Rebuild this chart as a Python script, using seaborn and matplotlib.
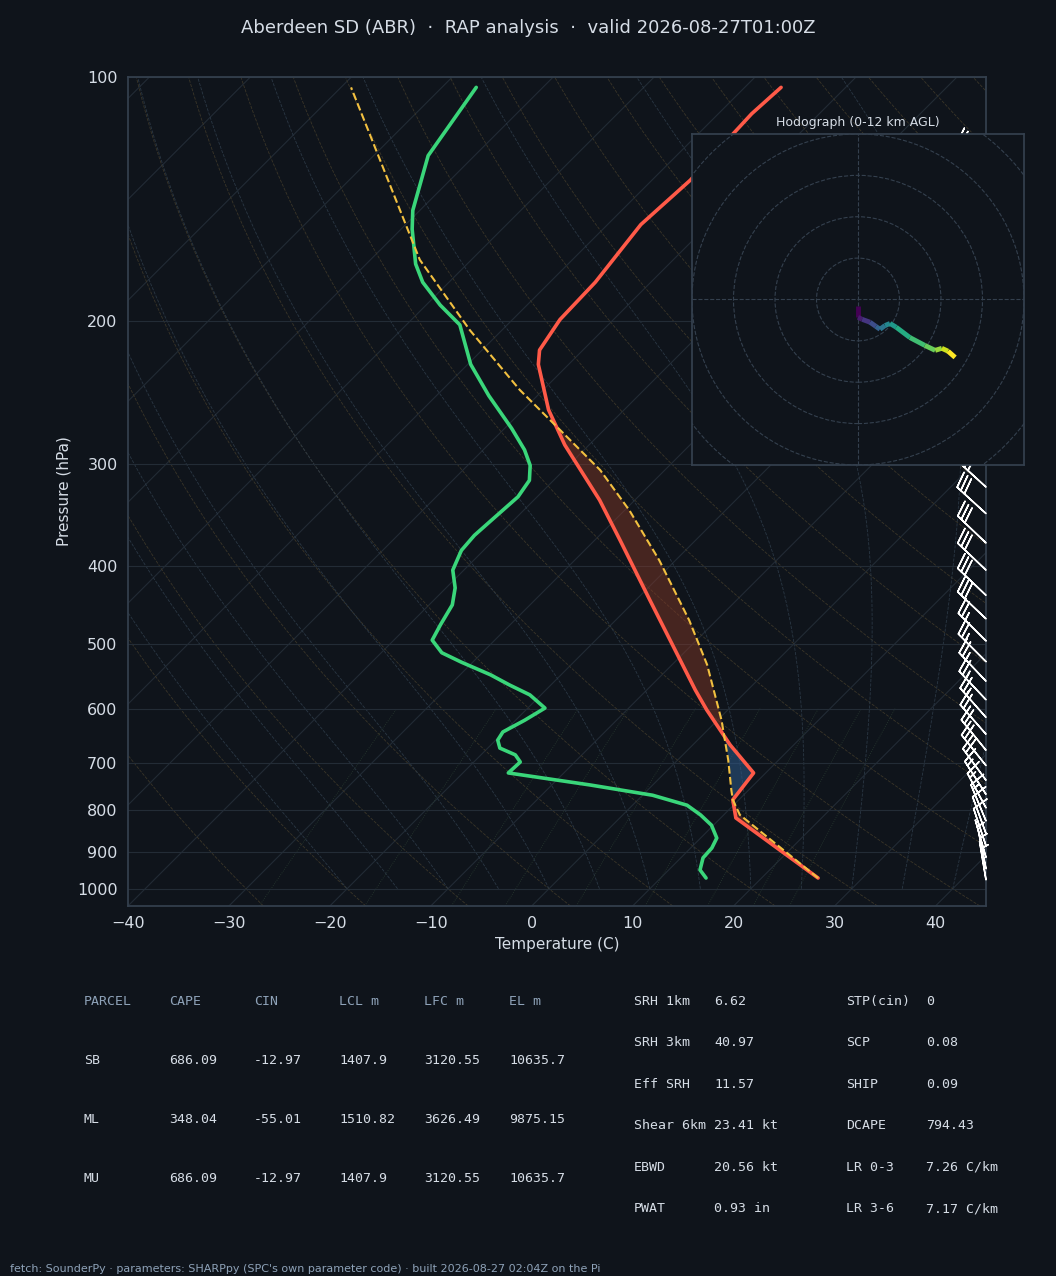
import numpy as np
import matplotlib
matplotlib.use("Agg")
import matplotlib.pyplot as plt
import seaborn as sns
from matplotlib.collections import LineCollection

# sounding
temp_p = [970, 818, 777, 720, 665, 602, 569, 441, 372, 332, 284, 257, 226, 217, 199, 179, 152, 134, 111, 103]
temp_t = [25.6, 11.5, 9.4, 8.8, 3.7, -2.1, -5.2, -18.6, -27.5, -33.5, -42.4, -47.5, -53.0, -54.3, -55.3, -55.5, -56.7, -56.2, -56.7, -56.4]

dew_p = [970, 948, 916, 891, 866, 835, 811, 789, 767, 745, 720, 698, 684, 671, 656, 641, 620, 599, 577, 561,
         545, 526, 512, 494, 473, 447, 426, 405, 383, 367, 351, 329, 314, 301, 288, 271, 247, 226, 202, 191,
         179, 170, 154, 146, 125, 103]
dew_t = [14.5, 13.1, 12.2, 12.1, 11.6, 9.8, 7.7, 5.4, 1.0, -6.2, -15.5, -15.4, -16.6, -18.8, -19.8, -20.1, -19.1, -18.3, -21.1, -24.1,
         -27.0, -31.1, -34.0, -36.2, -36.9, -37.7, -39.1, -41.1, -42.2, -42.4, -42.2, -41.9, -42.4, -43.8, -45.9, -49.3, -54.8, -59.7, -64.7, -68.6,
         -72.6, -75.1, -78.9, -80.7, -84.6, -86.6]

parcel_p = [970, 811, 777, 756, 694, 620, 530, 467, 394, 342, 305, 272, 243, 205, 168, 103]
parcel_t = [25.6, 11.6, 9.4, 8.3, 5.0, 0.4, -6.5, -12.7, -21.6, -29.5, -36.4, -44.4, -52.3, -63.2, -75.1, -99.0]

barb_p = [975, 945, 915, 885, 855, 825, 795, 765, 735, 705, 675, 645, 615, 585, 555, 525, 495, 465, 435, 405,
          375, 345, 320, 295, 150, 130]
barb_u = [0.5, 1, 2, 3, 4, 5, 7, 9, 11, 12, 13, 14, 15, 16, 17, 18, 19, 20, 21, 21,
          22, 23, 24, 24, 26, 26]
barb_v = [-3, -5, -7, -9, -11, -12, -13, -14, -15, -15, -16, -16, -17, -17, -18, -18, -19, -19, -20, -20,
          -21, -21, -22, -22, -24, -24]

hodo_u = [0, 0, 1, 2.9, 4.3, 5.3, 6.5, 7.7, 9.2, 12.5, 16.1, 18.6, 20.2, 21.7, 23.4]
hodo_v = [-1.5, -4.3, -4.8, -5.5, -6.5, -7.2, -6.3, -5.8, -6.7, -9.2, -11.1, -12.3, -11.8, -12.5, -14.0]

BG = "#0f141b"
SPINE = "#34404e"
TXT = "#d6dde6"
SKEW = 34.93
PBOT = 1050.0

sns.set_theme(style="dark")
plt.rcParams.update({"axes.facecolor": BG, "figure.facecolor": BG, "text.color": TXT,
                     "xtick.color": TXT, "ytick.color": TXT, "axes.labelcolor": TXT,
                     "axes.edgecolor": SPINE})


def skx(t, p):
    return np.asarray(t, float) + SKEW * np.log(PBOT / np.asarray(p, float))


fig = plt.figure(figsize=(10.56, 12.76), dpi=100)
ax = fig.add_axes([0.1212, 0.29, 0.8125, 0.6497])
ax.set_yscale("log")
ax.set_ylim(PBOT, 100)
ax.set_xlim(-40, 45)

# background lines
pp = np.geomspace(1050, 100, 200)
for t0 in range(-160, 60, 10):
    ax.plot(skx(np.full_like(pp, t0), pp), pp, color="#222b35", lw=0.8, zorder=1)
for th in range(-30, 220, 10):
    tk = (th + 273.15) * (pp / 1000) ** 0.2857 - 273.15
    ax.plot(skx(tk, pp), pp, color="#3a3528", lw=0.6, ls="--", zorder=1)
# moist adiabats
def es(tc):
    return 6.112 * np.exp(17.67 * tc / (tc + 243.5))
for t0 in range(-20, 45, 5):
    T = t0 + 273.15
    ps = np.geomspace(1000, 100, 300)
    tl = []
    for i, p in enumerate(ps):
        tl.append(T - 273.15)
        if i + 1 < len(ps):
            rs = 0.622 * es(T - 273.15) / (p - es(T - 273.15))
            dtdp = (287 * T + 2.5e6 * rs) / (1004 + 2.5e6 ** 2 * rs * 0.622 / (287 * T * T)) / p
            T += dtdp * (ps[i + 1] - p)
    ax.plot(skx(tl, ps), ps, color="#2a3744", lw=0.6, ls="--", zorder=1)
pm = np.geomspace(1050, 600, 50)
for w in [0.4, 1, 2, 3, 5, 8, 12, 16, 20]:
    e = pm * w / 1000 / (0.622 + w / 1000)
    td = 243.5 * np.log(e / 6.112) / (17.67 - np.log(e / 6.112))
    ax.plot(skx(td, pm), pm, color="#283a30", lw=0.6, ls=":", zorder=1)
for p in range(100, 1100, 100):
    ax.axhline(p, color="#232c36", lw=0.8, zorder=1)

# CAPE / CIN shading
pg = np.geomspace(970, 103, 400)
lp = np.log(pg)
tt = np.interp(-lp, -np.log(temp_p), temp_t)
tp = np.interp(-lp, -np.log(parcel_p), parcel_t)
ax.fill_betweenx(pg, skx(tt, pg), skx(tp, pg), where=(tp > tt) & (pg > 250), color="#8a3a28", alpha=0.45, lw=0, zorder=2)
ax.fill_betweenx(pg, skx(tt, pg), skx(tp, pg), where=(tp < tt) & (pg > 600), color="#2e5a8a", alpha=0.55, lw=0, zorder=2)

sns.lineplot(x=skx(temp_t, temp_p), y=temp_p, sort=False, estimator=None, color="#ff5a48", lw=2.6, ax=ax, zorder=4)
sns.lineplot(x=skx(dew_t, dew_p), y=dew_p, sort=False, estimator=None, color="#3ad67a", lw=2.6, ax=ax, zorder=4)
sns.lineplot(x=skx(parcel_t, parcel_p), y=parcel_p, sort=False, estimator=None, color="#f2c040", lw=1.5, ls="--", ax=ax, zorder=4)

ax.barbs(np.ones(len(barb_p)), barb_p, barb_u, barb_v, transform=ax.get_yaxis_transform(),
         color="white", length=7.5, linewidth=1.1, clip_on=False, zorder=5)

ax.set_yticks(range(100, 1100, 100))
ax.set_yticklabels([str(p) for p in range(100, 1100, 100)])
ax.yaxis.set_minor_locator(matplotlib.ticker.NullLocator())
ax.set_xticks(range(-40, 50, 10))
ax.tick_params(labelsize=11.5, length=4, color=TXT)
ax.set_xlabel("Temperature (C)", fontsize=11)
ax.set_ylabel("Pressure (hPa)", fontsize=11)
for s in ax.spines.values():
    s.set_color(SPINE)
ax.grid(False)

fig.suptitle("Aberdeen SD (ABR)  ·  RAP analysis  ·  valid 2026-08-27T01:00Z", y=0.985, fontsize=13, color=TXT)

# hodograph
hx = fig.add_axes([0.6553, 0.6356, 0.3144, 0.2594])
hx.set_facecolor(BG)
hx.set_xlim(-40, 40)
hx.set_ylim(-40, 40)
for r in range(10, 70, 10):
    hx.add_patch(plt.Circle((0, 0), r, fill=False, ls="--", lw=0.8, color="#34404e"))
hx.axhline(0, color="#34404e", ls="--", lw=0.8)
hx.axvline(0, color="#34404e", ls="--", lw=0.8)
pts = np.column_stack([hodo_u, hodo_v])
segs = np.stack([pts[:-1], pts[1:]], axis=1)
lc = LineCollection(segs, cmap="viridis", linewidths=3.5)
lc.set_array(np.arange(len(segs)))
hx.add_collection(lc)
hx.set_xticks(np.arange(-37.5, 40, 12.5))
hx.set_yticks(range(-40, 41, 10))
hx.set_xticklabels([])
hx.set_yticklabels([])
hx.tick_params(length=4, color=TXT)
for s in hx.spines.values():
    s.set_color(SPINE)
hx.grid(False)
hx.set_title("Hodograph (0-12 km AGL)", fontsize=9, color=TXT, pad=6)

# parameter table
HEAD = "#8ea2b8"
mono = dict(family="DejaVu Sans Mono", fontsize=9.5, va="center_baseline")
cols = [84, 169, 254, 339, 424, 509]
header = ["PARCEL", "CAPE", "CIN", "LCL m", "LFC m", "EL m"]
rows = [["SB", "686.09", "-12.97", "1407.9", "3120.55", "10635.7"],
        ["ML", "348.04", "-55.01", "1510.82", "3626.49", "9875.15"],
        ["MU", "686.09", "-12.97", "1407.9", "3120.55", "10635.7"]]
W, H = 1056, 1276
for x, h in zip(cols, header):
    fig.text(x / W, 1 - 1000 / H, h, color=HEAD, **mono)
for j, row in enumerate(rows):
    for x, v in zip(cols, row):
        fig.text(x / W, 1 - (1059 + 59 * j) / H, v, color=TXT, **mono)
left = [("SRH 1km", "6.62"), ("SRH 3km", "40.97"), ("Eff SRH", "11.57"),
        ("Shear 6km", "23.41 kt"), ("EBWD", "20.56 kt"), ("PWAT", "0.93 in")]
right = [("STP(cin)", "0"), ("SCP", "0.08"), ("SHIP", "0.09"),
         ("DCAPE", "794.43"), ("LR 0-3", "7.26 C/km"), ("LR 3-6", "7.17 C/km")]
for i, ((a, b), (c, d)) in enumerate(zip(left, right)):
    y = 1 - (1000 + 41.4 * i) / H
    fig.text(634 / W, y, a, color=TXT, **mono)
    fig.text(714 / W, y, b, color=TXT, **mono)
    fig.text(846 / W, y, c, color=TXT, **mono)
    fig.text(926 / W, y, d, color=TXT, **mono)

fig.text(10 / W, 1 - 1269 / H, "fetch: SounderPy · parameters: SHARPpy (SPC's own parameter code) · built 2026-08-27 02:04Z on the Pi",
         color=HEAD, fontsize=8, va="center")

fig.savefig("out.png", dpi=100, facecolor=BG)
